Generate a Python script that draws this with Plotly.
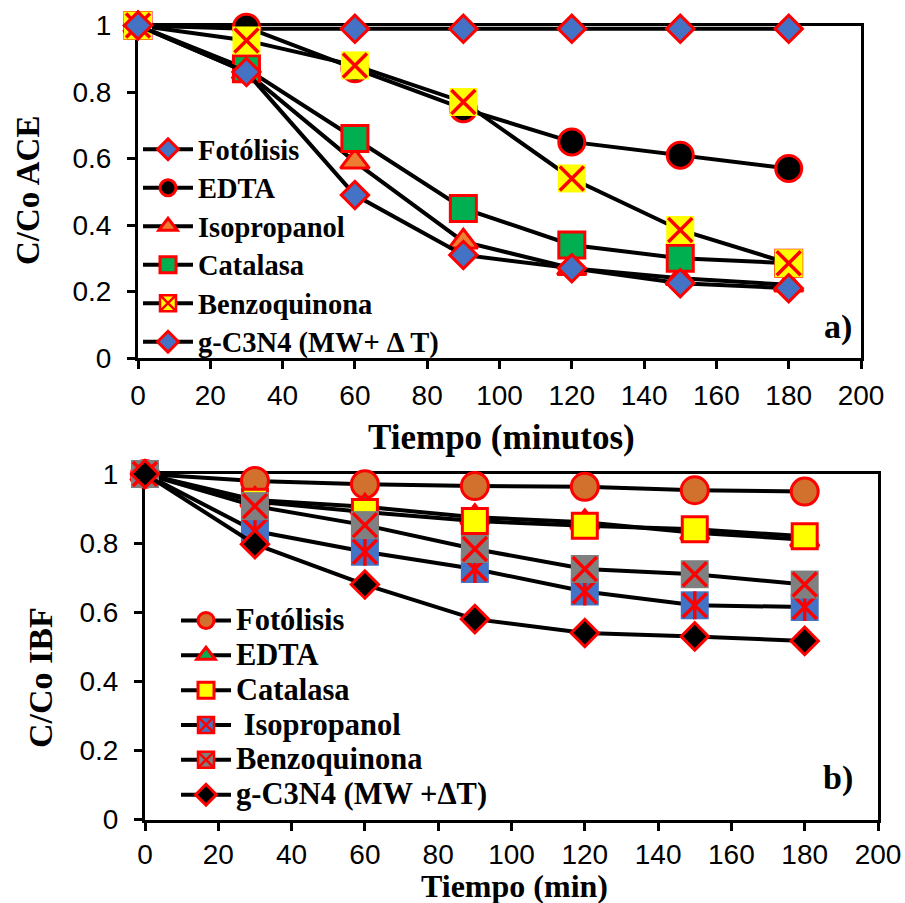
import plotly.graph_objects as go

# ---------------- data ----------------
t = [0, 30, 60, 90, 120, 150, 180]

# Panel a) C/Co ACE
ace_names = ["Fotólisis", "EDTA", "Isopropanol", "Catalasa", "Benzoquinona", "g-C3N4 (MW+ \u0394 T)"]
ace_fot = [1, 0.99, 0.99, 0.99, 0.99, 0.99, 0.99]
ace_edta = [1, 0.995, 0.87, 0.75, 0.65, 0.61, 0.57]
ace_iso = [1, 0.86, 0.59, 0.35, 0.27, 0.24, 0.22]
ace_cat = [1, 0.87, 0.66, 0.45, 0.34, 0.30, 0.285]
ace_benzo = [1, 0.955, 0.88, 0.77, 0.54, 0.385, 0.285]
ace_g = [1, 0.86, 0.49, 0.31, 0.27, 0.225, 0.21]

# Panel b) C/Co IBF
ibf_names = ["Fotólisis", "EDTA", "Catalasa", " Isopropanol", "Benzoquinona", "g-C3N4 (MW +\u0394T)"]
ibf_fot = [1, 0.98, 0.97, 0.965, 0.963, 0.953, 0.949]
ibf_edta = [1, 0.925, 0.905, 0.875, 0.86, 0.83, 0.81]
ibf_cat = [1, 0.92, 0.89, 0.864, 0.85, 0.84, 0.82]
ibf_iso = [1, 0.835, 0.775, 0.725, 0.66, 0.62, 0.615]
ibf_benzo = [1, 0.907, 0.852, 0.783, 0.725, 0.71, 0.68]
ibf_g = [1, 0.797, 0.68, 0.58, 0.54, 0.53, 0.517]

x_ticks = [0, 20, 40, 60, 80, 100, 120, 140, 160, 180, 200]
y_ticks = [0, 0.2, 0.4, 0.6, 0.8, 1]

# ---------------- styles ----------------
RED = "#FF0000"
BLUE = "#4472C4"
ORANGE = "#ED7D31"
BROWN = "#D2702E"
GREEN = "#00B050"
YELLOW = "#FFFF00"
GRAY = "#808080"
SERIF = "Liberation Serif, Times New Roman, serif"
SANS = "Liberation Sans, Arial, sans-serif"

fig = go.Figure()


def label(name, size):
    return '<span style="font-size:%gpx">%s</span>' % (size, name)


def add_simple(x, y, name, symbol, fill, size, xa, ya, legend, lsize):
    fig.add_trace(go.Scatter(
        x=x, y=y, name=label(name, lsize), mode="lines+markers", xaxis=xa, yaxis=ya, legend=legend,
        line=dict(color="black", width=4),
        marker=dict(symbol=symbol, size=size, color=fill, line=dict(color=RED, width=3)),
        cliponaxis=False))


def add_crossed(x, y, name, fill, size, overlays, xa, ya, legend, lsize):
    fig.add_trace(go.Scatter(
        x=x, y=y, name=name, mode="lines+markers", xaxis=xa, yaxis=ya, showlegend=False,
        line=dict(color="black", width=4),
        marker=dict(symbol="square", size=size, color=fill, line=dict(width=0)),
        cliponaxis=False))
    for sym, s in overlays:
        fig.add_trace(go.Scatter(
            x=x, y=y, mode="markers", xaxis=xa, yaxis=ya, showlegend=False, hoverinfo="skip",
            marker=dict(symbol=sym, size=s, color=RED, line=dict(color=RED, width=3.5)),
            cliponaxis=False))
    # legend entry
    fig.add_trace(go.Scatter(
        x=[None], y=[None], name=label(name, lsize), mode="lines+markers", xaxis=xa, yaxis=ya,
        legend=legend,
        line=dict(color="black", width=4),
        marker=dict(symbol="square-x", size=size, color=fill, line=dict(color=RED, width=2.5))))


LA = 28.5   # legend text size panel a
LB = 30.5   # legend text size panel b

# Panel a
add_simple(t, ace_fot, ace_names[0], "diamond", BLUE, 21, "x", "y", "legend", LA)
add_simple(t, ace_edta, ace_names[1], "circle", "black", 26, "x", "y", "legend", LA)
add_simple(t, ace_iso, ace_names[2], "triangle-up", ORANGE, 25, "x", "y", "legend", LA)
add_simple(t, ace_cat, ace_names[3], "square", GREEN, 26, "x", "y", "legend", LA)
add_crossed(t, ace_benzo, ace_names[4], YELLOW, 28, [("x-thin-open", 24)], "x", "y", "legend", LA)
add_simple(t, ace_g, ace_names[5], "diamond", BLUE, 21, "x", "y", "legend", LA)

# Panel b
add_simple(t, ibf_fot, ibf_names[0], "circle", BROWN, 27, "x2", "y2", "legend2", LB)
add_simple(t, ibf_edta, ibf_names[1], "triangle-up", GREEN, 25, "x2", "y2", "legend2", LB)
add_simple(t, ibf_cat, ibf_names[2], "square", YELLOW, 25, "x2", "y2", "legend2", LB)
add_crossed(t, ibf_iso, ibf_names[3], BLUE, 28, [("x-thin-open", 24), ("line-ns-open", 20)],
            "x2", "y2", "legend2", LB)
add_crossed(t, ibf_benzo, ibf_names[4], GRAY, 28, [("x-thin-open", 24)], "x2", "y2", "legend2", LB)
add_simple(t, ibf_g, ibf_names[5], "diamond", "black", 21, "x2", "y2", "legend2", LB)

W, H = 905, 903


def px_x(p):
    return p / W


def px_y(p):
    return (H - p) / H


axis_common = dict(
    showline=True, linewidth=3, linecolor="black", mirror=True,
    ticks="outside", ticklen=8, tickwidth=3, tickcolor="black",
    showgrid=False, zeroline=False, layer="below traces",
    tickfont=dict(family=SANS, size=28, color="black"),
)
y_extra = dict(ticklabelstandoff=10)

fig.update_layout(
    width=W, height=H,
    margin=dict(l=0, r=0, t=0, b=0, autoexpand=False),
    paper_bgcolor="white", plot_bgcolor="white",
    showlegend=True,
    xaxis=dict(domain=[px_x(138), px_x(861)], range=[0, 200], anchor="y",
               tickvals=x_ticks, ticklabelstandoff=2, **axis_common),
    yaxis=dict(domain=[px_y(358), px_y(25.5)], range=[0, 1], anchor="x",
               tickvals=y_ticks, **axis_common, **y_extra),
    xaxis2=dict(domain=[px_x(145), px_x(878)], range=[0, 200], anchor="y2",
                tickvals=x_ticks, ticklabelstandoff=0, **axis_common),
    yaxis2=dict(domain=[px_y(819.5), px_y(474)], range=[0, 1], anchor="x2",
                tickvals=y_ticks, **axis_common, **y_extra),
    legend=dict(x=px_x(138), y=px_y(125), xanchor="left", yanchor="top",
                bgcolor="rgba(0,0,0,0)", itemwidth=50, tracegroupgap=0,
                font=dict(family=SERIF, size=27.3, color="black", weight="bold")),
    legend2=dict(x=px_x(176), y=px_y(598), xanchor="left", yanchor="top",
                 bgcolor="rgba(0,0,0,0)", itemwidth=50, tracegroupgap=0,
                 font=dict(family=SERIF, size=24.5, color="black", weight="bold")),
    annotations=[
        dict(text="<b>Tiempo (minutos)</b>", x=px_x(501), y=px_y(437), xref="paper", yref="paper",
             showarrow=False, xanchor="center", yanchor="middle",
             font=dict(family=SERIF, size=35, color="black")),
        dict(text="<b>Tiempo (min)</b>", x=px_x(514), y=px_y(886), xref="paper", yref="paper",
             showarrow=False, xanchor="center", yanchor="middle",
             font=dict(family=SERIF, size=32, color="black")),
        dict(text="<b>C/Co ACE</b>", x=px_x(28), y=px_y(191), xref="paper", yref="paper",
             showarrow=False, xanchor="center", yanchor="middle", textangle=-90,
             font=dict(family=SERIF, size=33, color="black")),
        dict(text="<b>C/Co IBF</b>", x=px_x(40), y=px_y(678), xref="paper", yref="paper",
             showarrow=False, xanchor="center", yanchor="middle", textangle=-90,
             font=dict(family=SERIF, size=34, color="black")),
        dict(text="<b>a)</b>", x=px_x(838), y=px_y(327), xref="paper", yref="paper",
             showarrow=False, xanchor="center", yanchor="middle",
             font=dict(family=SERIF, size=34, color="black")),
        dict(text="<b>b)</b>", x=px_x(838), y=px_y(778), xref="paper", yref="paper",
             showarrow=False, xanchor="center", yanchor="middle",
             font=dict(family=SERIF, size=34, color="black")),
    ],
)

fig.write_html("out.html")
